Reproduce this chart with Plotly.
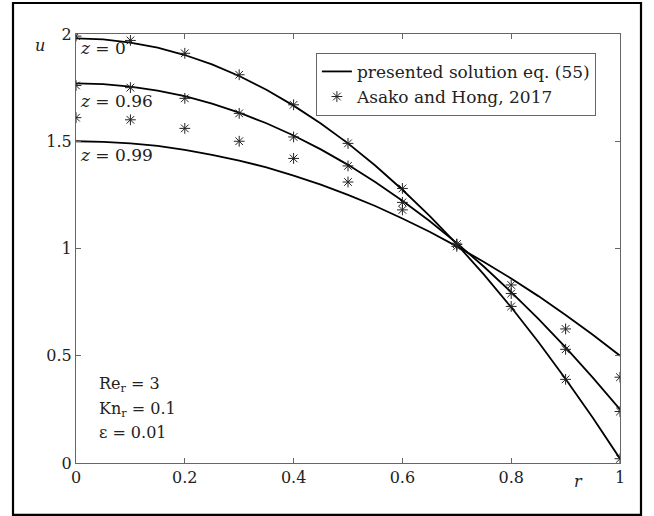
import plotly.graph_objects as go

r_line = [0.0, 0.05, 0.1, 0.15, 0.2, 0.25, 0.3, 0.35, 0.4, 0.45, 0.5,
          0.55, 0.6, 0.65, 0.7, 0.75, 0.8, 0.85, 0.9, 0.95, 1.0]

# presented solution eq. (55)
u_z0 = [1.98, 1.975, 1.960, 1.936, 1.902, 1.858, 1.804, 1.740, 1.666, 1.583, 1.490,
        1.387, 1.274, 1.152, 1.020, 0.878, 0.726, 0.564, 0.392, 0.211, 0.020]
u_z096 = [1.77, 1.766, 1.755, 1.736, 1.71, 1.675, 1.633, 1.584, 1.527, 1.462, 1.39,
          1.31, 1.223, 1.128, 1.025, 0.915, 0.797, 0.672, 0.539, 0.398, 0.25]
u_z099 = [1.50, 1.497, 1.49, 1.478, 1.46, 1.437, 1.41, 1.378, 1.34, 1.298, 1.25,
          1.198, 1.14, 1.078, 1.01, 0.937, 0.86, 0.778, 0.69, 0.598, 0.50]

# Asako and Hong, 2017
r_pts = [0.0, 0.1, 0.2, 0.3, 0.4, 0.5, 0.6, 0.7, 0.8, 0.9, 1.0]
ah_z0 = [1.99, 1.97, 1.91, 1.81, 1.67, 1.49, 1.28, 1.02, 0.73, 0.39, 0.02]
ah_z096 = [1.76, 1.75, 1.70, 1.63, 1.52, 1.385, 1.215, 1.02, 0.79, 0.53, 0.24]
ah_z099 = [1.61, 1.60, 1.56, 1.50, 1.42, 1.31, 1.18, 1.01, 0.83, 0.625, 0.40]

curve_labels = ["<i>z</i> = 0", "<i>z</i> = 0.96", "<i>z</i> = 0.99"]
curve_label_y = [1.935, 1.69, 1.435]

x_ticks = [0, 0.2, 0.4, 0.6, 0.8, 1]
x_tick_text = ["0", "0.2", "0.4", "0.6", "0.8", "1"]
y_ticks = [0, 0.5, 1, 1.5, 2]
y_tick_text = ["0", "0.5", "1", "1.5", "2"]

params = ["Re<sub>r</sub> = 3", "Kn<sub>r</sub> = 0.1", "\u03b5 = 0.01"]
params_y = [0.365, 0.25, 0.14]

FONT = "DejaVu Serif, serif"

fig = go.Figure()
for i, u in enumerate([u_z0, u_z096, u_z099]):
    fig.add_trace(go.Scatter(
        x=r_line, y=u, mode="lines", line=dict(color="black", width=1.8),
        name="presented solution eq. (55)", showlegend=(i == 0), legendrank=1))
for i, u in enumerate([ah_z0, ah_z096, ah_z099]):
    fig.add_trace(go.Scatter(
        x=r_pts, y=u, mode="markers",
        marker=dict(symbol="asterisk-open", size=9, color="#222", line=dict(color="#222", width=1)),
        name="Asako and Hong, 2017", showlegend=(i == 0), legendrank=2))

for t, yy in zip(curve_labels, curve_label_y):
    fig.add_annotation(x=0.004, y=yy, text=t, showarrow=False, xanchor="left", yanchor="middle",
                       font=dict(family=FONT, size=17, color="#222"))
for t, yy in zip(params, params_y):
    fig.add_annotation(x=0.038, y=yy, text=t, showarrow=False, xanchor="left", yanchor="middle",
                       font=dict(family=FONT, size=16, color="#222"))

fig.add_annotation(xref="paper", yref="paper", x=-0.079, y=1.0, text="<i>u</i>", showarrow=False,
                   font=dict(family=FONT, size=16, color="#222"))
fig.add_annotation(xref="paper", yref="paper", x=0.936, y=-0.07, text="<i>r</i>", showarrow=False,
                   font=dict(family=FONT, size=16, color="#222"))

# outer frame
fig.add_shape(type="rect", xref="paper", yref="paper", x0=-0.1158, x1=1.0386, y0=-0.121, y1=1.0723,
              line=dict(color="black", width=2.2))

axis_common = dict(showgrid=False, zeroline=False, showline=True, linecolor="#666", linewidth=1,
                   mirror="ticks", ticks="inside", ticklen=5, tickcolor="#666",
                   tickfont=dict(family=FONT, size=16, color="#222"))
fig.update_xaxes(range=[0, 1], tickvals=x_ticks, ticktext=x_tick_text, **axis_common)
fig.update_yaxes(range=[0, 2], tickvals=y_ticks, ticktext=y_tick_text, **axis_common)

fig.update_layout(
    width=654, height=516,
    margin=dict(l=76, r=34, t=34, b=53),
    plot_bgcolor="white", paper_bgcolor="white",
    font=dict(family=FONT, size=16, color="#222"),
    legend=dict(x=0.441, y=0.956, xanchor="left", yanchor="top", bordercolor="#666", borderwidth=1,
                bgcolor="white", font=dict(family=FONT, size=17, color="#222"),
                tracegroupgap=0, itemwidth=30),
)

fig.write_html("out.html")
